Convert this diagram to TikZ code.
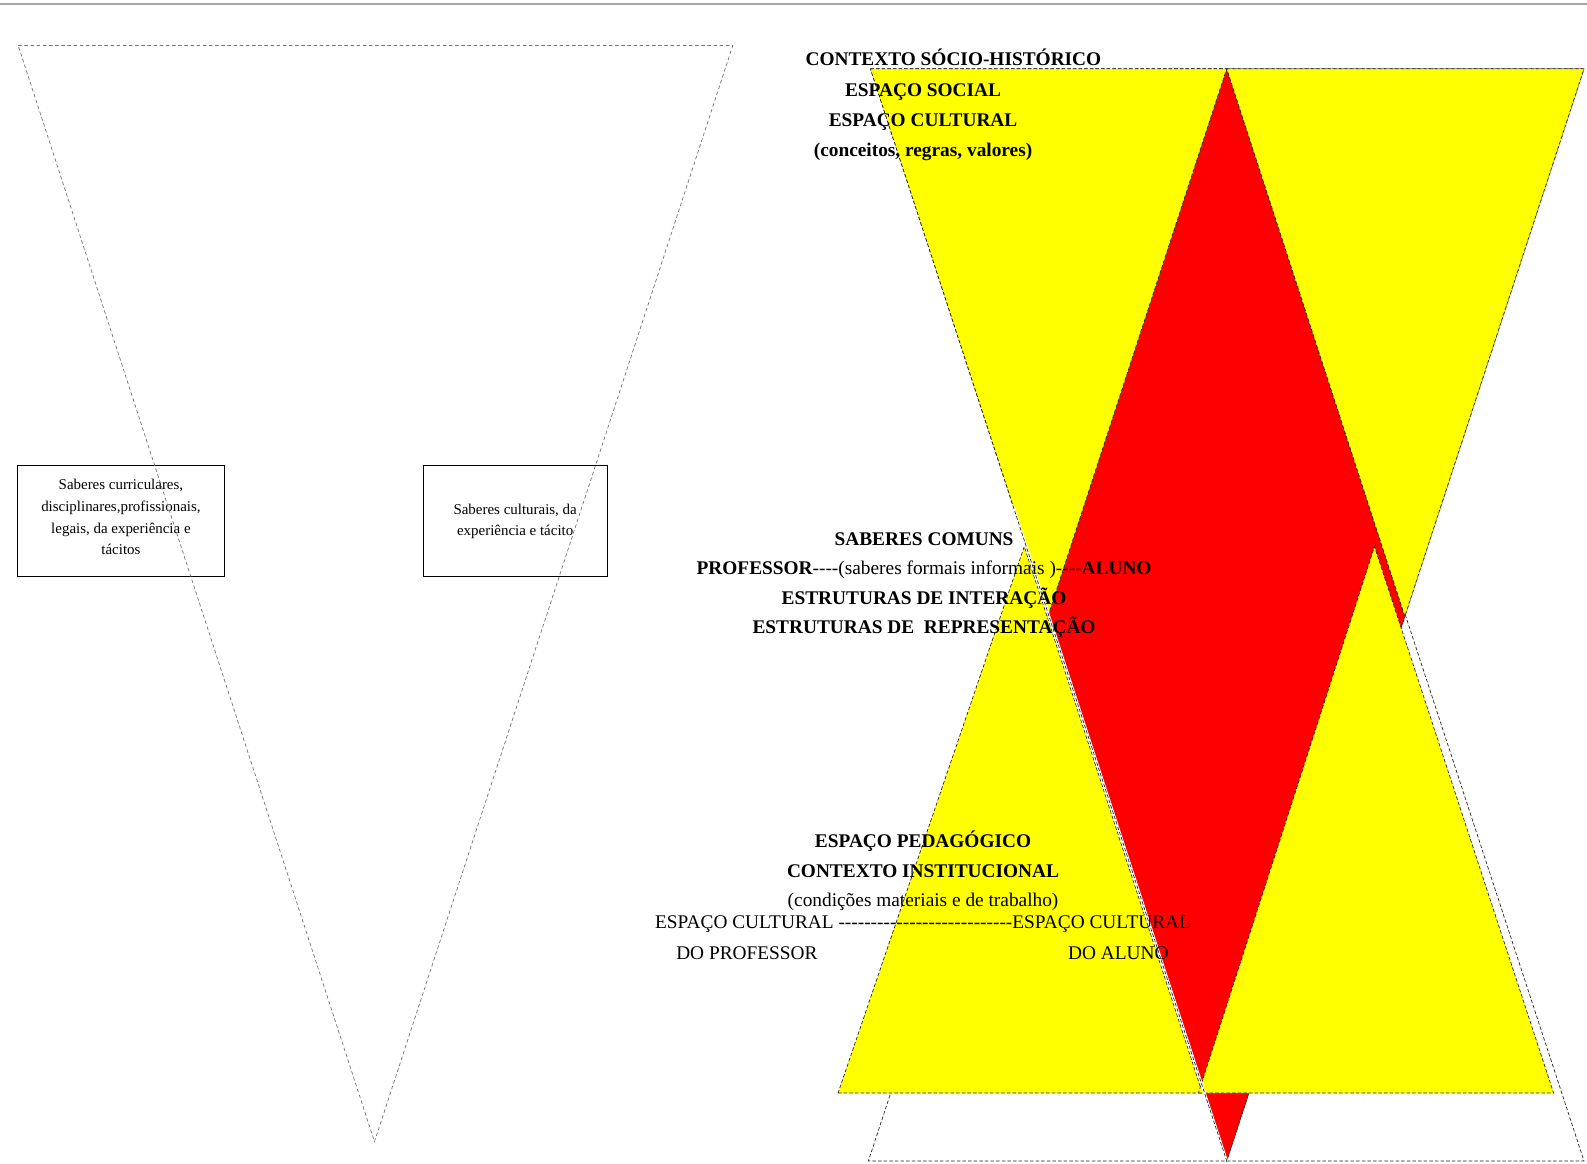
\documentclass[tikz,border=0pt]{standalone}
\usepackage{fontspec}
\setmainfont{Liberation Serif}[Ligatures=TeXOff]
\usetikzlibrary{calc}
\definecolor{ylw}{RGB}{255,255,0}
\definecolor{rd}{RGB}{255,0,0}
\begin{document}
\begin{tikzpicture}[x=0.02024cm,y=-0.02024cm,tri/.style={draw=black!85,dash pattern=on 2pt off 1.2pt,thin},triY/.style={tri,fill=ylw},triR/.style={tri,fill=rd},triL/.style={draw=black!55,dash pattern=on 2pt off 1.5pt,thin},knowbox/.style={draw=black,thin,inner sep=0pt,align=center,font=\fontsize{8.5}{12.3}\selectfont},capt/.style={align=center,font=\fontsize{11}{16.8}\selectfont\bfseries},captn/.style={align=center,font=\fontsize{11}{16.8}\selectfont}]
\useasboundingbox (0,0) rectangle (1568,1150);
\draw[gray!70,line width=1.3pt] (0,4) -- (1568,4);

% left triangle with the two boxes
\node[knowbox,minimum width=117.7pt,minimum height=63.2pt] (boxP) at (119.5,515) {Saberes curriculares,\\disciplinares,profissionais,\\legais, da experiência e\\tácitos\\[-7.7pt]};
\node[knowbox,minimum width=104.5pt,minimum height=63.2pt] (boxA) at (509,515) {Saberes culturais, da\\experiência e tácito};
\draw[triL] (18,45) -- (724,45) -- (370,1128) -- cycle;

% right figure
\coordinate (Dtl) at (860,68);
\coordinate (Dtm) at (1212,68);
\coordinate (Dtr) at (1565,68);
\coordinate (Dap) at (1212,1147);
\coordinate (Ubl) at (858,1147);
\coordinate (Ubr) at (1565,1147);
\coordinate (Xl) at (1036,607);
\coordinate (Xr) at (1388,609);

\draw[tri] (Dtl) -- (Dtr) -- (Dap) -- cycle;
\draw[tri] (Dtm) -- (Ubl) -- (Ubr) -- cycle;
\draw[triR] (Dtm) -- (Xl) -- (Dap) -- (Xr) -- cycle;
\draw[triY] (Dtl) -- (Dtm) -- (Xl) -- cycle;
\draw[triY] (Dtm) -- (Dtr) -- (Xr) -- cycle;
\draw[triY] (828,1080) -- (1188,1080) -- (1012,540) -- cycle;
\draw[triY] (1184,1080) -- (1535,1080) -- (1358,540) -- cycle;
\draw[white,line width=1.4pt] ($(Dtl)!0.4!(Dap)$) -- (Dap);
\draw[tri] ($(Dtl)!0.4!(Dap)$) -- (Dap);

% texts
\node[capt] (ctx) at (942,57) {CONTEXTO SÓCIO-HISTÓRICO};
\node[capt,anchor=north] (soc) at (912,77) {ESPAÇO SOCIAL\\ESPAÇO CULTURAL\\(conceitos, regras, valores)};
\node[capt,anchor=north] (com) at (913,520) {SABERES COMUNS\\PROFESSOR{\mdseries ----(saberes formais informais )----}ALUNO\\ESTRUTURAS DE INTERAÇÃO\\ESTRUTURAS DE \ REPRESENTAÇÃO};
\node[capt,anchor=north] (ped) at (912,815) {ESPAÇO PEDAGÓGICO\\CONTEXTO INSTITUCIONAL\\{\mdseries (condições materiais e de trabalho)}};
\node[captn] (cult) at (912,913) {ESPAÇO CULTURAL ---------------------------ESPAÇO CULTURAL};
\node[captn] (doP) at (738,942) {DO PROFESSOR};
\node[captn] (doA) at (1105,942) {DO ALUNO};
\end{tikzpicture}
\end{document}
